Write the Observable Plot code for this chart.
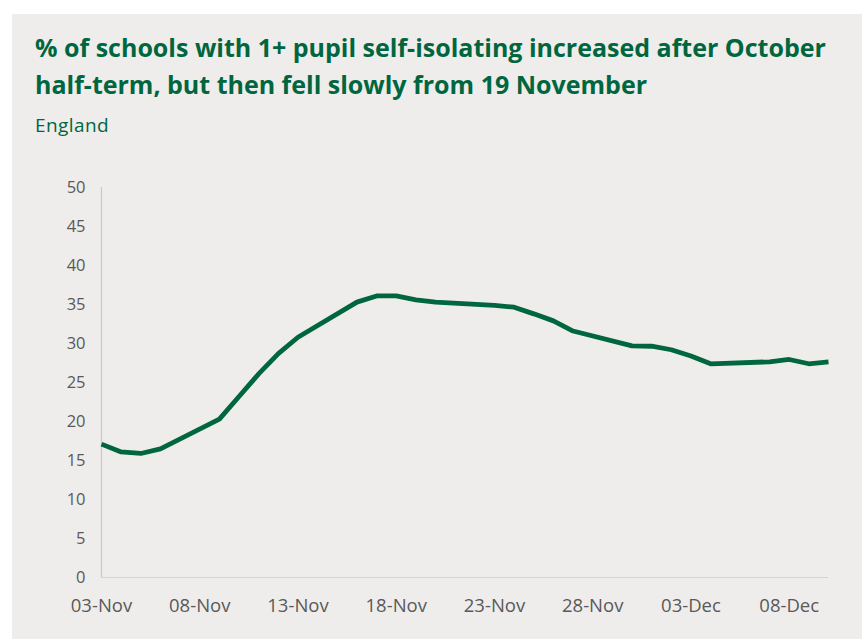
<!DOCTYPE html>
<html>
<head>
<meta charset="utf-8">
<script src="https://cdn.jsdelivr.net/npm/d3@7"></script>
<script src="https://cdn.jsdelivr.net/npm/@observablehq/plot@0.6"></script>
<style>
  html, body { margin: 0; padding: 0; background: #ffffff; }
  #panel { position: absolute; left: 12px; top: 14px; width: 850px; height: 625px; background: #efedeb; overflow: hidden; }
  #title { position: absolute; left: 23px; top: 15px; margin: 0; font-family: "Open Sans", sans-serif; font-weight: 700; font-size: 25px; line-height: 37px; color: #00663f; white-space: nowrap; }
  #subtitle { position: absolute; left: 23px; top: 98px; margin: 0; font-family: "Open Sans", sans-serif; font-weight: 400; font-size: 19px; letter-spacing: 0.4px; color: #00663f; }
  #chart { position: absolute; left: 0; top: 136px; }
</style>
</head>
<body>
<div id="panel">
  <div id="title">% of schools with 1+ pupil self-isolating increased after October<br>half-term, but then fell slowly from 19 November</div>
  <div id="subtitle">England</div>
  <div id="chart"></div>
</div>
<script>
const dates = ["2020-11-03","2020-11-04","2020-11-05","2020-11-06",
  "2020-11-09","2020-11-10","2020-11-11","2020-11-12","2020-11-13",
  "2020-11-16","2020-11-17","2020-11-18","2020-11-19","2020-11-20",
  "2020-11-23","2020-11-24","2020-11-25","2020-11-26","2020-11-27",
  "2020-11-30","2020-12-01","2020-12-02","2020-12-03","2020-12-04",
  "2020-12-07","2020-12-08","2020-12-09","2020-12-10"];
const values = [17.1, 16.1, 15.9, 16.5,
  20.3, 23.2, 26.1, 28.7, 30.8,
  35.3, 36.1, 36.1, 35.6, 35.3,
  34.9, 34.65, 33.8, 32.9, 31.6,
  29.7, 29.65, 29.2, 28.4, 27.4,
  27.65, 27.95, 27.4, 27.65];
const xTicks = ["2020-11-03","2020-11-08","2020-11-13","2020-11-18","2020-11-23","2020-11-28","2020-12-03","2020-12-08"];
const yTicks = [0,5,10,15,20,25,30,35,40,45,50];

const data = dates.map((d, i) => ({date: new Date(d), value: values[i]}));
const fmt = d3.utcFormat("%d-%b");
const tickFont = "'Open Sans', sans-serif";

const plot = Plot.plot({
  width: 850,
  height: 489,
  marginLeft: 89,
  marginRight: 34,
  marginTop: 37,
  marginBottom: 62,
  style: { background: "transparent", fontFamily: tickFont, color: "#595959", overflow: "visible" },
  x: { type: "utc", domain: [new Date(dates[0]), new Date(dates[dates.length - 1])] },
  y: { domain: [0, 50] },
  marks: [
    Plot.axisY({ ticks: yTicks, tickSize: 0, tickPadding: 16, label: null, fontSize: 16.5, fontFamily: tickFont, fill: "#595959" }),
    Plot.axisX({ ticks: xTicks.map(d => new Date(d)), tickFormat: fmt, tickSize: 0, tickPadding: 21, label: null, fontSize: 18.5, fontFamily: tickFont, fill: "#595959" }),
    Plot.ruleX([new Date(dates[0])], { stroke: "#c8c8c8", strokeWidth: 1.2 }),
    Plot.ruleY([0], { stroke: "#d4d4d4", strokeWidth: 1.2 }),
    Plot.line(data, { x: "date", y: "value", stroke: "#00663f", strokeWidth: 4.8, strokeLinejoin: "miter", strokeLinecap: "butt" })
  ]
});
document.getElementById("chart").appendChild(plot);
</script>
</body>
</html>
